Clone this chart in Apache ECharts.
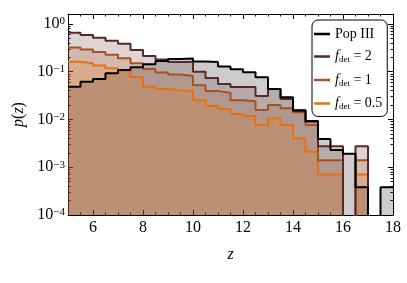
<!DOCTYPE html>
<html><head><meta charset="utf-8">
<script src="https://cdn.jsdelivr.net/npm/echarts@6/dist/echarts.min.js"></script>
<style>html,body{margin:0;padding:0;background:#fff}#c{width:407px;height:283px}</style>
</head><body><div id="c"></div>
<script>
// ---- data ----
const binEdges = [5,5.5,6,6.5,7,7.5,8,8.5,9,9.5,10,10.5,11,11.5,12,12.5,13,13.5,14,14.5,15,15.5,16,16.5,17,17.5,18];
const popIII = [0.048,0.061,0.070,0.092,0.108,0.123,0.142,0.167,0.184,0.188,0.163,0.159,0.127,0.112,0.097,0.076,0.043,0.029,0.0151,0.0092,0.0039,0.0023,0.0019,0.00038,0,0.00038];
const fdet2  = [0.65,0.58,0.51,0.44,0.38,0.284,0.212,0.179,0.159,0.159,0.0995,0.073,0.055,0.0475,0.0475,0.0308,0.043,0.0267,0.0157,0.0089,0.00275,0.00275,0,0.00275,0,0];
const fdet1  = [0.32,0.29,0.258,0.226,0.19,0.149,0.113,0.096,0.087,0.081,0.052,0.039,0.036,0.025,0.024,0.0157,0.020,0.017,0.0141,0.0076,0.0014,0.0014,0,0.0014,0,0];
const fdet05 = [0.161,0.149,0.134,0.117,0.103,0.077,0.048,0.043,0.040,0.039,0.025,0.019,0.0164,0.0129,0.0117,0.0076,0.0106,0.0076,0.0040,0.0021,0.0007,0.0007,0,0.0007,0,0];
const xTicks = [6,8,10,12,14,16,18];
const yTicks = [1e-4,1e-3,1e-2,1e-1,1];
const seriesNames = ['Pop III','fdet2','fdet1','fdet05'];
const legendLabels = {
  'Pop III':'{n|Pop III}',
  'fdet2':'{i|f}{d|det}{n| = 2}',
  'fdet1':'{i|f}{d|det}{n| = 1}',
  'fdet05':'{i|f}{d|det}{n| = 0.5}'
};

// ---- derived ----
const FLOOR = 1e-9;
const xMinor = binEdges.filter(e => xTicks.indexOf(e) < 0);
const yMinor = [];
yTicks.slice(0,-1).forEach(d => { for (let k=2;k<=9;k++) yMinor.push(+(d*k).toPrecision(3)); });
function steps(vals){ return binEdges.map((e,i)=>[e, Math.max(vals[Math.min(i, vals.length-1)], FLOOR)]); }

const serif = 'Liberation Serif';
const colors = {'Pop III':'#000000','fdet2':'#5a2828','fdet1':'#a5521f','fdet05':'#e8710f'};
const vals = {'Pop III':popIII,'fdet2':fdet2,'fdet1':fdet1,'fdet05':fdet05};

function xAx(pos, major, withLabel){
  return {type:'value', min:5, max:18, position:pos, splitLine:{show:false},
    axisLine:{show:major, lineStyle:{color:'#000',width:1}},
    axisTick:{inside:true, length: major?5:2.5, customValues: major?xTicks:xMinor, lineStyle:{color:'#000',width:1}},
    axisLabel: withLabel ? {customValues:xTicks, fontFamily:serif, fontSize:16, color:'#000', margin:5} : {show:false},
    name: withLabel ? 'z' : '', nameLocation:'middle', nameGap:32,
    nameTextStyle:{fontFamily:serif, fontStyle:'italic', fontSize:16, color:'#000'}
  };
}
function yAx(pos, major, withLabel){
  return {type:'log', logBase:10, min:1e-4, max:1.6, position:pos, splitLine:{show:false},
    axisLine:{show:major, lineStyle:{color:'#000',width:1}},
    axisTick:{inside:true, length: major?5:2.5, customValues: major?yTicks:yMinor, lineStyle:{color:'#000',width:1}},
    axisLabel: withLabel ? {customValues:yTicks, margin:3,
      formatter: v => { const e = Math.round(Math.log10(v)); return '{b|10}{s|' + (e<0 ? '\u2212'+(-e) : e) + '}'; },
      rich:{b:{fontFamily:serif,fontSize:16,color:'#000'}, s:{fontFamily:serif,fontSize:11,color:'#000',verticalAlign:'top'}}
    } : {show:false},
    name: withLabel ? '{i|p}{n|(}{i|z}{n|)}' : '', nameLocation:'middle', nameGap:40,
    nameTextStyle:{rich:{i:{fontFamily:serif,fontStyle:'italic',fontSize:16,color:'#000'}, n:{fontFamily:serif,fontSize:16,color:'#000'}}}
  };
}

// filled areas first (Pop III at bottom of the stack of translucent fills), then step lines on top
const areaOrder = ['Pop III','fdet2','fdet1','fdet05'];
const lineOrder = ['fdet05','fdet1','fdet2','Pop III'];
const series = [];
areaOrder.forEach((n,idx) => series.push({
  type:'line', name:n+'_area', data: steps(vals[n]), step:'end', symbol:'none', clip:true,
  xAxisIndex:0, yAxisIndex:0, z: 2, silent:true,
  lineStyle:{width:0, opacity:0}, itemStyle:{color:colors[n]},
  areaStyle:{color:colors[n], opacity:0.2}
}));
lineOrder.forEach((n,idx) => series.push({
  type:'line', name:n, data: steps(vals[n]), step:'end', symbol:'none', clip:true,
  xAxisIndex:0, yAxisIndex:0, z: 5+idx,
  lineStyle:{color:colors[n], width:2}, itemStyle:{color:colors[n]}
}));

const chart = echarts.init(document.getElementById('c'), null, {renderer:'canvas'});
chart.setOption({
  animation:false,
  backgroundColor:'#fff',
  grid:{left:68, right:14, top:14, bottom:68, containLabel:false, outerBoundsMode:'none'},
  xAxis:[xAx('bottom',true,true), xAx('bottom',false,false), xAx('top',true,false), xAx('top',false,false)],
  yAxis:[yAx('left',true,true), yAx('left',false,false), yAx('right',true,false), yAx('right',false,false)],
  legend:{data:seriesNames.map(n => ({name:n, icon:'rect'})), orient:'vertical', left:312, top:20, padding:[7,5,5,2], itemGap:8.5,
    itemWidth:16, itemHeight:2.5, backgroundColor:'#fff', borderColor:'#000', borderWidth:1, borderRadius:6,
    formatter: name => legendLabels[name],
    textStyle:{fontFamily:serif, fontSize:14, color:'#000',
      rich:{n:{fontFamily:serif,fontSize:14,lineHeight:16,color:'#000'}, i:{fontFamily:serif,fontStyle:'italic',fontSize:14,lineHeight:16,color:'#000'}, d:{fontFamily:serif,fontSize:9,color:'#000',verticalAlign:'bottom'}}}
  },
  series: series
});
</script></body></html>
